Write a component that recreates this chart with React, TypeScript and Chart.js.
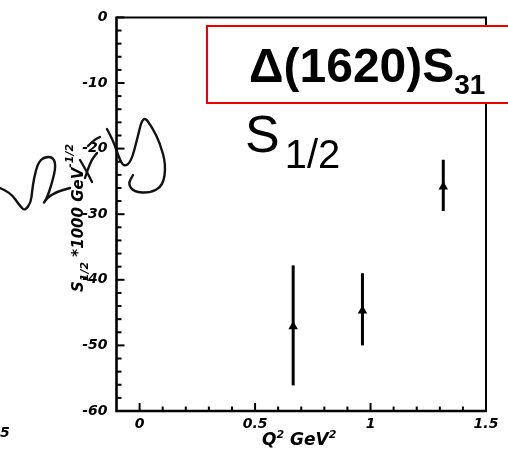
import React, { useEffect, useRef } from 'react';
import { Chart, registerables } from 'chart.js';

Chart.register(...registerables);

// ---- data ----
const q2Values = [0.665, 0.965, 1.315];
const s12Values = [-47.1, -44.7, -25.8];
const errPlus = [9.3, 5.7, 4.1];
const errMinus = [9.0, 5.3, 3.7];

const xTickValues = [0, 0.5, 1, 1.5];
const xTickLabels = ['0', '0.5', '1', '1.5'];
const yTickValues = [0, -10, -20, -30, -40, -50, -60];
const yTickLabels = ['0', '-10', '-20', '-30', '-40', '-50', '-60'];

const X_MIN = -0.1, X_MAX = 1.5, Y_MIN = -60, Y_MAX = 0;
const X_MINOR = 0.1, Y_MINOR = 2;

const AX_FONT = '"DejaVu Sans"';
const TITLE_FONT = '"Liberation Sans", Arial';

// decorative handwritten scribble (not data)
const scribbleStrokes: number[][][] = [
  [[0, 188], [10, 192], [20, 206], [25, 211], [31, 202], [32, 192], [34, 178], [38, 163], [44, 157], [53, 157], [56, 166], [52, 183], [47, 198], [43, 204], [47, 198], [56, 192], [70, 188]],
  [[80, 160], [86, 170], [92, 182]],
  [[85, 178], [90, 162], [97, 153]],
  [[88, 146], [94, 140], [100, 137]],
  [[107, 129], [113, 140], [119, 158], [124, 167], [131, 162], [137, 140], [143, 115], [152, 127], [160, 143], [166, 165], [163, 186], [150, 193], [134, 192], [128, 184], [133, 175]],
];

type Seg = { t: string; f: string; dy: number; dx?: number };

function drawRich(ctx: CanvasRenderingContext2D, segs: Seg[], x: number, y: number) {
  let cx = x;
  for (const s of segs) {
    ctx.font = s.f;
    cx += s.dx || 0;
    ctx.fillText(s.t, cx, y + s.dy);
    cx += ctx.measureText(s.t).width;
  }
}

function smoothPath(ctx: CanvasRenderingContext2D, pts: number[][]) {
  ctx.beginPath();
  ctx.moveTo(pts[0][0], pts[0][1]);
  for (let i = 1; i < pts.length - 1; i++) {
    const mx = (pts[i][0] + pts[i + 1][0]) / 2;
    const my = (pts[i][1] + pts[i + 1][1]) / 2;
    ctx.quadraticCurveTo(pts[i][0], pts[i][1], mx, my);
  }
  const last = pts[pts.length - 1];
  ctx.lineTo(last[0], last[1]);
  ctx.stroke();
}

const decorPlugin = {
  id: 'decor',
  beforeDatasetsDraw(chart: any) {
    const ctx = chart.ctx as CanvasRenderingContext2D;
    const { left, right, top, bottom } = chart.chartArea;
    const xs = chart.scales.x, ys = chart.scales.y;
    ctx.save();
    ctx.strokeStyle = '#000';
    // error bars
    ctx.lineWidth = 3;
    for (let i = 0; i < q2Values.length; i++) {
      const px = xs.getPixelForValue(q2Values[i]);
      const y1 = ys.getPixelForValue(s12Values[i] + errPlus[i]);
      const y2 = ys.getPixelForValue(s12Values[i] - errMinus[i]);
      ctx.beginPath();
      ctx.moveTo(px, y1);
      ctx.lineTo(px, y2);
      ctx.stroke();
    }
    // frame
    ctx.lineWidth = 2;
    ctx.beginPath();
    ctx.moveTo(left, top);
    ctx.lineTo(right, top);
    ctx.lineTo(right, bottom);
    ctx.stroke();
    ctx.lineWidth = 2.6;
    ctx.beginPath();
    ctx.moveTo(left, top - 1);
    ctx.lineTo(left, bottom);
    ctx.lineTo(right + 1, bottom);
    ctx.stroke();
    // inner ticks
    ctx.lineWidth = 2;
    for (let k = 0; ; k++) {
      const v = Math.round((Y_MIN + k * Y_MINOR) * 1000) / 1000;
      if (v > Y_MAX) break;
      const py = ys.getPixelForValue(v);
      const major = Math.abs(v % 10) < 1e-6;
      ctx.beginPath();
      ctx.moveTo(left, py);
      ctx.lineTo(left + (major ? 8 : 5), py);
      ctx.stroke();
    }
    for (let k = 1; ; k++) {
      const v = Math.round((X_MIN + k * X_MINOR) * 1000) / 1000;
      if (v > X_MAX + 1e-9) break;
      const px = xs.getPixelForValue(v);
      const major = Math.abs(Math.round(v * 2) - v * 2) < 1e-6;
      ctx.beginPath();
      ctx.moveTo(px, bottom);
      ctx.lineTo(px, bottom - (major ? 8 : 4.5));
      ctx.stroke();
    }
    ctx.restore();
  },
  afterDraw(chart: any) {
    const ctx = chart.ctx as CanvasRenderingContext2D;
    ctx.save();
    ctx.fillStyle = '#000';
    ctx.textBaseline = 'alphabetic';
    ctx.textAlign = 'left';

    // y axis title (rotated)
    ctx.save();
    ctx.translate(83, 292);
    ctx.rotate(-Math.PI / 2);
    drawRich(ctx, [
      { t: 'S', f: `italic bold 15px ${AX_FONT}`, dy: 0 },
      { t: '1/2', f: `italic bold 11px ${AX_FONT}`, dy: 5 },
      { t: ' *1000 GeV', f: `italic bold 15px ${AX_FONT}`, dy: 0 },
      { t: '-1/2', f: `italic bold 11px ${AX_FONT}`, dy: -10 },
    ], 0, 0);
    ctx.restore();

    // x axis title
    drawRich(ctx, [
      { t: 'Q', f: `italic bold 17px ${AX_FONT}`, dy: 0 },
      { t: '2', f: `italic bold 11px ${AX_FONT}`, dy: -7 },
      { t: ' GeV', f: `italic bold 17px ${AX_FONT}`, dy: 0 },
      { t: '2', f: `italic bold 11px ${AX_FONT}`, dy: -7 },
    ], 262, 445);

    // stray label from neighbouring panel
    ctx.font = `italic bold 14px ${AX_FONT}`;
    ctx.fillText('5', 0, 437);

    // title box
    ctx.fillStyle = '#fff';
    ctx.fillRect(207, 26, 320, 77);
    ctx.strokeStyle = '#ee0000';
    ctx.lineWidth = 2;
    ctx.strokeRect(207, 26, 320, 77);
    ctx.fillStyle = '#000';
    drawRich(ctx, [
      { t: 'Δ(1620)S', f: `bold 48px ${TITLE_FONT}`, dy: 0 },
      { t: '31', f: `bold 28px ${TITLE_FONT}`, dy: 12 },
    ], 249, 82);

    drawRich(ctx, [
      { t: 'S', f: `52px ${TITLE_FONT}`, dy: 0 },
      { t: '1/2', f: `40px ${TITLE_FONT}`, dy: 16, dx: 5 },
    ], 245, 152);

    // scribble
    ctx.strokeStyle = '#111';
    ctx.lineWidth = 2.4;
    ctx.lineCap = 'round';
    ctx.lineJoin = 'round';
    for (const s of scribbleStrokes) smoothPath(ctx, s);
    ctx.restore();
  },
};

export default function App() {
  const ref = useRef<HTMLCanvasElement | null>(null);
  useEffect(() => {
    if (!ref.current) return;
    const tickFont = { family: AX_FONT, size: 14, style: 'italic' as const, weight: 'bold' as const };
    const chart = new Chart(ref.current, {
      type: 'scatter',
      data: {
        datasets: [{
          data: q2Values.map((x, i) => ({ x, y: s12Values[i] })),
          pointStyle: 'triangle',
          pointRadius: 5.5,
          pointHoverRadius: 5.5,
          backgroundColor: '#000',
          borderColor: '#000',
          borderWidth: 0,
          showLine: false,
        }],
      },
      options: {
        responsive: false,
        animation: false,
        devicePixelRatio: 1,
        layout: { padding: { left: 0, top: 16, right: 22, bottom: 0 } },
        plugins: { legend: { display: false }, tooltip: { enabled: false } },
        events: [],
        scales: {
          x: {
            type: 'linear',
            min: X_MIN,
            max: X_MAX,
            afterBuildTicks: (s: any) => { s.ticks = xTickValues.map((v) => ({ value: v })); },
            afterFit: (s: any) => { s.height = 49; },
            grid: { display: false, drawTicks: false },
            border: { display: false },
            ticks: {
              font: tickFont,
              color: '#000',
              padding: 5,
              autoSkip: false,
              maxRotation: 0,
              callback: (v: any) => {
                const i = xTickValues.findIndex((t) => Math.abs(t - Number(v)) < 1e-9);
                return i >= 0 ? xTickLabels[i] : '';
              },
            },
          },
          y: {
            type: 'linear',
            min: Y_MIN,
            max: Y_MAX,
            afterBuildTicks: (s: any) => { s.ticks = yTickValues.map((v) => ({ value: v })); },
            afterFit: (s: any) => { s.width = 116.5; },
            grid: { display: false, drawTicks: false },
            border: { display: false },
            ticks: {
              font: tickFont,
              color: '#000',
              padding: 9,
              autoSkip: false,
              callback: (v: any) => {
                const i = yTickValues.findIndex((t) => Math.abs(t - Number(v)) < 1e-9);
                return i >= 0 ? yTickLabels[i] : '';
              },
            },
          },
        },
      },
      plugins: [decorPlugin],
    });
    return () => chart.destroy();
  }, []);
  return (
    <div style={{ position: 'absolute', left: 0, top: 0, width: 508, height: 460, background: '#fff' }}>
      <canvas ref={ref} width={508} height={460} style={{ display: 'block', width: 508, height: 460 }} />
    </div>
  );
}
